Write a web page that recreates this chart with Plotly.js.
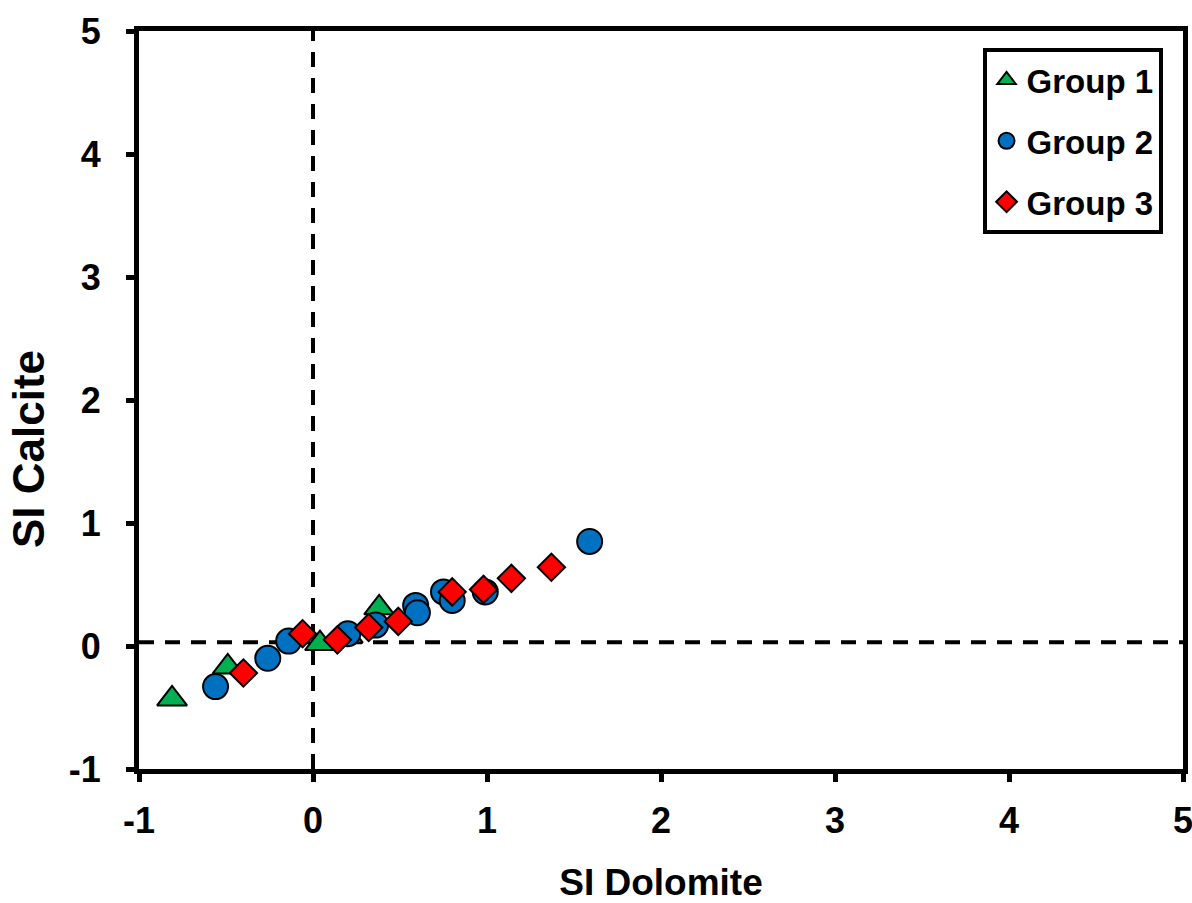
<!DOCTYPE html>
<html>
<head>
<meta charset="utf-8">
<script src="https://cdn.plot.ly/plotly-3.0.1.min.js"></script>
<style>html,body{margin:0;padding:0;background:#fff;}#chart{width:1192px;height:903px;}</style>
</head>
<body>
<div id="chart"></div>
<script>
// Group 1 (green triangles)
const g1_x = [-0.81, -0.49, 0.04, 0.20, 0.38];
const g1_y = [-0.43, -0.17, 0.02, 0.08, 0.31];
// Group 2 (blue circles)
const g2_x = [-0.56, -0.26, -0.14, 0.20, 0.36, 0.59, 0.60, 0.75, 0.80, 0.99, 1.59];
const g2_y = [-0.33, -0.10, 0.04, 0.10, 0.17, 0.33, 0.27, 0.44, 0.37, 0.44, 0.85];
// Group 3 (red diamonds)
const g3_x = [-0.40, -0.06, 0.14, 0.32, 0.49, 0.80, 0.98, 1.14, 1.37];
const g3_y = [-0.22, 0.10, 0.05, 0.15, 0.20, 0.44, 0.46, 0.55, 0.64];
const names = ["Group 1", "Group 2", "Group 3"];
const xTickVals = [-1, 0, 1, 2, 3, 4, 5];
const xTickText = ["-1", "0", "1", "2", "3", "4", "5"];
const yTickVals = [-1, 0, 1, 2, 3, 4, 5];
const yTickText = ["-1", "0", "1", "2", "3", "4", "5"];
const xTitle = "SI Dolomite";
const yTitle = "SI Calcite";

const FONT = "Arial, 'Liberation Sans', sans-serif";

const traces = [
  {x: g1_x, y: g1_y, name: names[0], type: 'scatter', mode: 'markers', legendgroup: 'a',
   marker: {symbol: 'triangle-up', size: 26, color: '#00B050', line: {color: '#000', width: 2}}},
  {x: g2_x, y: g2_y, name: names[1], type: 'scatter', mode: 'markers', legendgroup: 'b',
   marker: {symbol: 'circle', size: 25, color: '#0070C0', line: {color: '#000', width: 2}}},
  {x: g3_x, y: g3_y, name: names[2], type: 'scatter', mode: 'markers', legendgroup: 'c',
   marker: {symbol: 'diamond', size: 21, color: '#FF0000', line: {color: '#000', width: 2}}}
];

const axisCommon = {
  range: [-1, 5], showgrid: false, zeroline: false,
  showline: true, linewidth: 5, linecolor: '#000', mirror: true,
  ticks: 'outside', ticklen: 8, tickwidth: 5, tickcolor: '#000', tickmode: 'array',
  ticklabeloverflow: 'allow',
  tickfont: {family: FONT, size: 36, color: '#000', weight: 'bold'}
};

const layout = {
  width: 1192, height: 903,
  margin: {l: 139, r: 9, t: 31, b: 134},
  paper_bgcolor: '#fff', plot_bgcolor: '#fff',
  showlegend: true,
  xaxis: Object.assign({}, axisCommon, {
    tickvals: xTickVals, ticktext: xTickText, ticklabelstandoff: 8,
    title: {text: xTitle, font: {family: FONT, size: 37, color: '#000', weight: 'bold'}, standoff: 32}
  }),
  yaxis: Object.assign({}, axisCommon, {
    tickvals: yTickVals, ticktext: yTickText, ticklabelstandoff: 18
  }),
  annotations: [
    {text: yTitle, xref: 'paper', yref: 'paper', x: -0.1063, y: 0.4336,
     xanchor: 'center', yanchor: 'middle', textangle: -90, showarrow: false,
     font: {family: FONT, size: 44, color: '#000', weight: 'bold'}}
  ],
  legend: {
    x: 0.808, y: 0.977, xanchor: 'left', yanchor: 'top',
    bgcolor: '#fff', bordercolor: '#000', borderwidth: 4,
    font: {family: FONT, size: 33, color: '#000', weight: 'bold'},
    tracegroupgap: 15
  },
  shapes: [
    {type: 'line', xref: 'x', yref: 'y', x0: 0, x1: 0, y0: -1, y1: 5, layer: 'below',
     line: {color: '#000', width: 4, dash: '15px,11px'}},
    {type: 'line', xref: 'x', yref: 'y', x0: -1, x1: 5, y0: 0.03, y1: 0.03, layer: 'below',
     line: {color: '#000', width: 4, dash: '15px,11px'}}
  ]
};

Plotly.newPlot('chart', traces, layout, {displayModeBar: false, staticPlot: true});
</script>
</body>
</html>
